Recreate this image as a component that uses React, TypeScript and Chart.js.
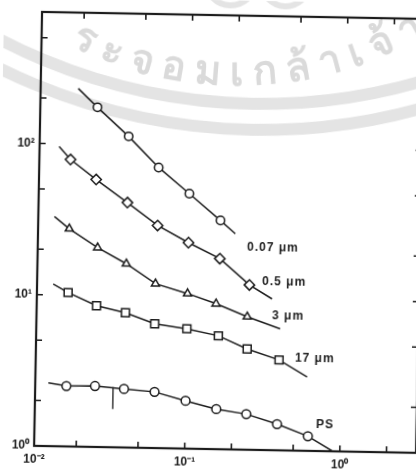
import React, { useEffect, useRef } from 'react';
import { Chart, registerables } from 'chart.js';

Chart.register(...registerables);

// ---- axis ranges / ticks ----
const X_MIN = 0.0107;
const X_MAX = 3.1;
const Y_MIN = 1;
const Y_MAX = 740;
const xTicks = [X_MIN, 0.02, 0.05, 0.1, 0.2, 0.5, 1, 2];
const xTickText = ['10⁻²', '', '', '10⁻¹', '', '', '10⁰', ''];
const yTicks = [1, 2, 5, 10, 20, 50, 100, 200, 500];
const yTickText = ['10⁰', '', '', '10¹', '', '', '10²', '', ''];

// ---- series (x, y) ----
const x07 = [0.025, 0.04, 0.063, 0.1, 0.16];
const y07 = [176, 114, 71.6, 48.5, 32.5];
const fit07x = [0.0187, 0.2];
const fit07y = [233, 26.7];

const x05 = [0.017, 0.025, 0.04, 0.063, 0.1, 0.16, 0.25];
const y05 = [78.9, 58.6, 41.6, 29.6, 23.0, 18.2, 12.3];
const fit05x = [0.0143, 0.351];
const fit05y = [96, 10.0];

const x3 = [0.017, 0.026, 0.04, 0.062, 0.1, 0.153, 0.244];
const y3 = [27.5, 20.8, 16.4, 12.2, 10.6, 9.15, 7.57];
const fit3x = [0.0136, 0.399];
const fit3y = [33.0, 6.36];

const x17 = [0.017, 0.026, 0.04, 0.062, 0.1, 0.16, 0.246, 0.396];
const y17 = [10.4, 8.59, 7.78, 6.63, 6.2, 5.62, 4.64, 3.96];
const fit17x = [0.0136, 0.603];
const fit17y = [11.8, 3.08];

const xPS = [0.017, 0.026, 0.04, 0.063, 0.1, 0.158, 0.247, 0.391, 0.62];
const yPS = [2.51, 2.53, 2.44, 2.35, 2.07, 1.84, 1.72, 1.49, 1.25];
const fitPSx = [0.013, 0.9];
const fitPSy = [2.62, 1.0];

const markX = [0.034, 0.034];
const markY = [2.5, 1.79];

const seriesLabels = ['0.07 μm', '0.5 μm', '3 μm', '17 μm', 'PS'];
const labelX = [0.239, 0.302, 0.353, 0.501, 0.697];
const labelY = [21.7, 12.97, 7.74, 4.1, 1.49];

const watermarkText = 'ระจอมเกล้าเจ้า';

const INK = '#1c1c1c';

function pts(xs: number[], ys: number[]) {
  return xs.map((x, i) => ({ x, y: ys[i] }));
}
function fitLine(xs: number[], ys: number[], fx: number[], fy: number[]) {
  return [{ x: fx[0], y: fy[0] }, ...pts(xs, ys), { x: fx[1], y: fy[1] }];
}

const series = [
  { xs: x07, ys: y07, fx: fit07x, fy: fit07y, style: 'circle', r: 4.2 },
  { xs: x05, ys: y05, fx: fit05x, fy: fit05y, style: 'rectRot', r: 5.2 },
  { xs: x3, ys: y3, fx: fit3x, fy: fit3y, style: 'triangle', r: 4.6 },
  { xs: x17, ys: y17, fx: fit17x, fy: fit17y, style: 'rect', r: 5.6 },
  { xs: xPS, ys: yPS, fx: fitPSx, fy: fitPSy, style: 'circle', r: 4.4 },
];

const watermarkPlugin = {
  id: 'watermark',
  beforeDraw(chart: any) {
    const ctx = chart.ctx;
    ctx.save();
    ctx.strokeStyle = '#e4e4e4';
    ctx.lineWidth = 12;
    ctx.beginPath();
    ctx.arc(250, -465, 568, 0, Math.PI);
    ctx.stroke();
    ctx.beginPath();
    ctx.arc(250, -465, 594, 0, Math.PI);
    ctx.stroke();
    // partial logo circles at the top
    ctx.lineWidth = 6;
    ctx.beginPath();
    ctx.arc(226, -20, 25, 0, Math.PI);
    ctx.stroke();
    ctx.beginPath();
    ctx.arc(281, -19, 24, 0, Math.PI);
    ctx.stroke();
    // text along arc
    const cx = 228, cy = -286, r = 371;
    ctx.fillStyle = '#dadada';
    ctx.font = 'bold 40px "Noto Sans", "DejaVu Sans", sans-serif';
    const clusters: string[] = [];
    for (const ch of watermarkText) {
      const c = ch.charCodeAt(0);
      const comb = c === 0x0e31 || (c >= 0x0e34 && c <= 0x0e3a) || (c >= 0x0e47 && c <= 0x0e4e);
      if (comb && clusters.length) clusters[clusters.length - 1] += ch;
      else clusters.push(ch);
    }
    const widths = clusters.map((c) => ctx.measureText(c).width);
    const aStart = Math.acos((67 - cx) / r);
    const aEnd = Math.acos((393 - cx) / r);
    const n = clusters.length - 1;
    const used = widths.slice(0, n).reduce((a, b) => a + b, 0);
    const gap = ((aStart - aEnd) * r - used) / (n - 1);
    let ang = aStart;
    ctx.textAlign = 'center';
    ctx.textBaseline = 'alphabetic';
    clusters.forEach((c, i) => {
      const a = ang - widths[i] / 2 / r;
      const px = cx + r * Math.cos(a);
      const py = cy + r * Math.sin(a);
      ctx.save();
      ctx.translate(px, py);
      ctx.rotate(a - Math.PI / 2);
      ctx.fillText(c, 0, 0);
      ctx.restore();
      ang -= (widths[i] + gap) / r;
    });
    ctx.restore();
  },
};

const framePlugin = {
  id: 'frame',
  afterDraw(chart: any) {
    const ctx = chart.ctx;
    const { left, right, top, bottom } = chart.chartArea;
    const xs = chart.scales.x;
    const ys = chart.scales.y;
    ctx.save();
    ctx.strokeStyle = INK;
    ctx.lineWidth = 1.6;
    const tl = 6;
    ctx.beginPath();
    xTicks.forEach((v) => {
      const p = xs.getPixelForValue(v);
      if (p <= left + 1 || p >= right - 1) return;
      ctx.moveTo(p, bottom);
      ctx.lineTo(p, bottom - tl);
      ctx.moveTo(p, top);
      ctx.lineTo(p, top + tl);
    });
    yTicks.forEach((v) => {
      const p = ys.getPixelForValue(v);
      if (p <= top + 1 || p >= bottom - 1) return;
      ctx.moveTo(left, p);
      ctx.lineTo(left + tl, p);
      ctx.moveTo(right, p);
      ctx.lineTo(right - tl, p);
    });
    ctx.stroke();
    ctx.lineWidth = 2.2;
    ctx.strokeRect(left, top, right - left, bottom - top);
    // series labels
    ctx.fillStyle = INK;
    ctx.font = 'bold 12px "Liberation Sans", Arial, sans-serif';
    (ctx as any).letterSpacing = '1px';
    ctx.textAlign = 'left';
    ctx.textBaseline = 'middle';
    seriesLabels.forEach((t, i) => {
      ctx.fillText(t, xs.getPixelForValue(labelX[i]), ys.getPixelForValue(labelY[i]));
    });
    ctx.restore();
  },
};

export default function App() {
  const ref = useRef<HTMLCanvasElement>(null);
  useEffect(() => {
    if (!ref.current) return;
    const datasets: any[] = [];
    series.forEach((s) => {
      datasets.push({
        data: pts(s.xs, s.ys),
        showLine: false,
        pointStyle: s.style,
        pointRadius: s.r,
        pointBackgroundColor: '#ffffff',
        pointBorderColor: INK,
        pointBorderWidth: 1.5,
        order: 0,
      });
      datasets.push({
        data: fitLine(s.xs, s.ys, s.fx, s.fy),
        showLine: true,
        borderColor: INK,
        borderWidth: 1.5,
        pointRadius: 0,
        tension: 0,
        order: 1,
      });
    });
    datasets.push({
      data: pts(markX, markY),
      showLine: true,
      borderColor: INK,
      borderWidth: 1.3,
      pointRadius: 0,
      order: 1,
    });
    const font = { family: '"Liberation Sans", Arial, sans-serif', size: 12, weight: 'bold' as const };
    const chart = new Chart(ref.current, {
      type: 'scatter',
      data: { datasets },
      plugins: [watermarkPlugin, framePlugin],
      options: {
        animation: false,
        responsive: false,
        events: [],
        layout: { padding: { top: 15, right: 20, left: 0, bottom: 0 } },
        plugins: { legend: { display: false }, tooltip: { enabled: false } },
        scales: {
          x: {
            type: 'logarithmic',
            min: X_MIN,
            max: X_MAX,
            grid: { display: false, drawTicks: false },
            border: { display: false },
            afterBuildTicks: (scale: any) => {
              scale.ticks = xTicks.map((v) => ({ value: v }));
            },
            afterFit: (scale: any) => {
              scale.height = 31;
            },
            ticks: {
              autoSkip: false,
              maxRotation: 0,
              padding: 6,
              color: INK,
              font,
              callback: (_v: any, i: number) => xTickText[i],
            },
          },
          y: {
            type: 'logarithmic',
            min: Y_MIN,
            max: Y_MAX,
            grid: { display: false, drawTicks: false },
            border: { display: false },
            afterBuildTicks: (scale: any) => {
              scale.ticks = yTicks.map((v) => ({ value: v }));
            },
            afterFit: (scale: any) => {
              scale.width = 38;
            },
            ticks: {
              autoSkip: false,
              padding: 5,
              color: INK,
              font,
              callback: (_v: any, i: number) => yTickText[i],
            },
          },
        },
      },
    });
    return () => chart.destroy();
  }, []);
  return (
    <div
      style={{
        position: 'fixed',
        left: 0,
        top: 0,
        width: 416,
        height: 470,
        overflow: 'hidden',
        background: '#ffffff',
      }}
    >
      <canvas
        ref={ref}
        width={440}
        height={480}
        style={{
          position: 'absolute',
          left: 0,
          top: 0,
          width: 440,
          height: 480,
          transform: 'rotate(1.05deg)',
          transformOrigin: '208px 235px',
        }}
      />
    </div>
  );
}
